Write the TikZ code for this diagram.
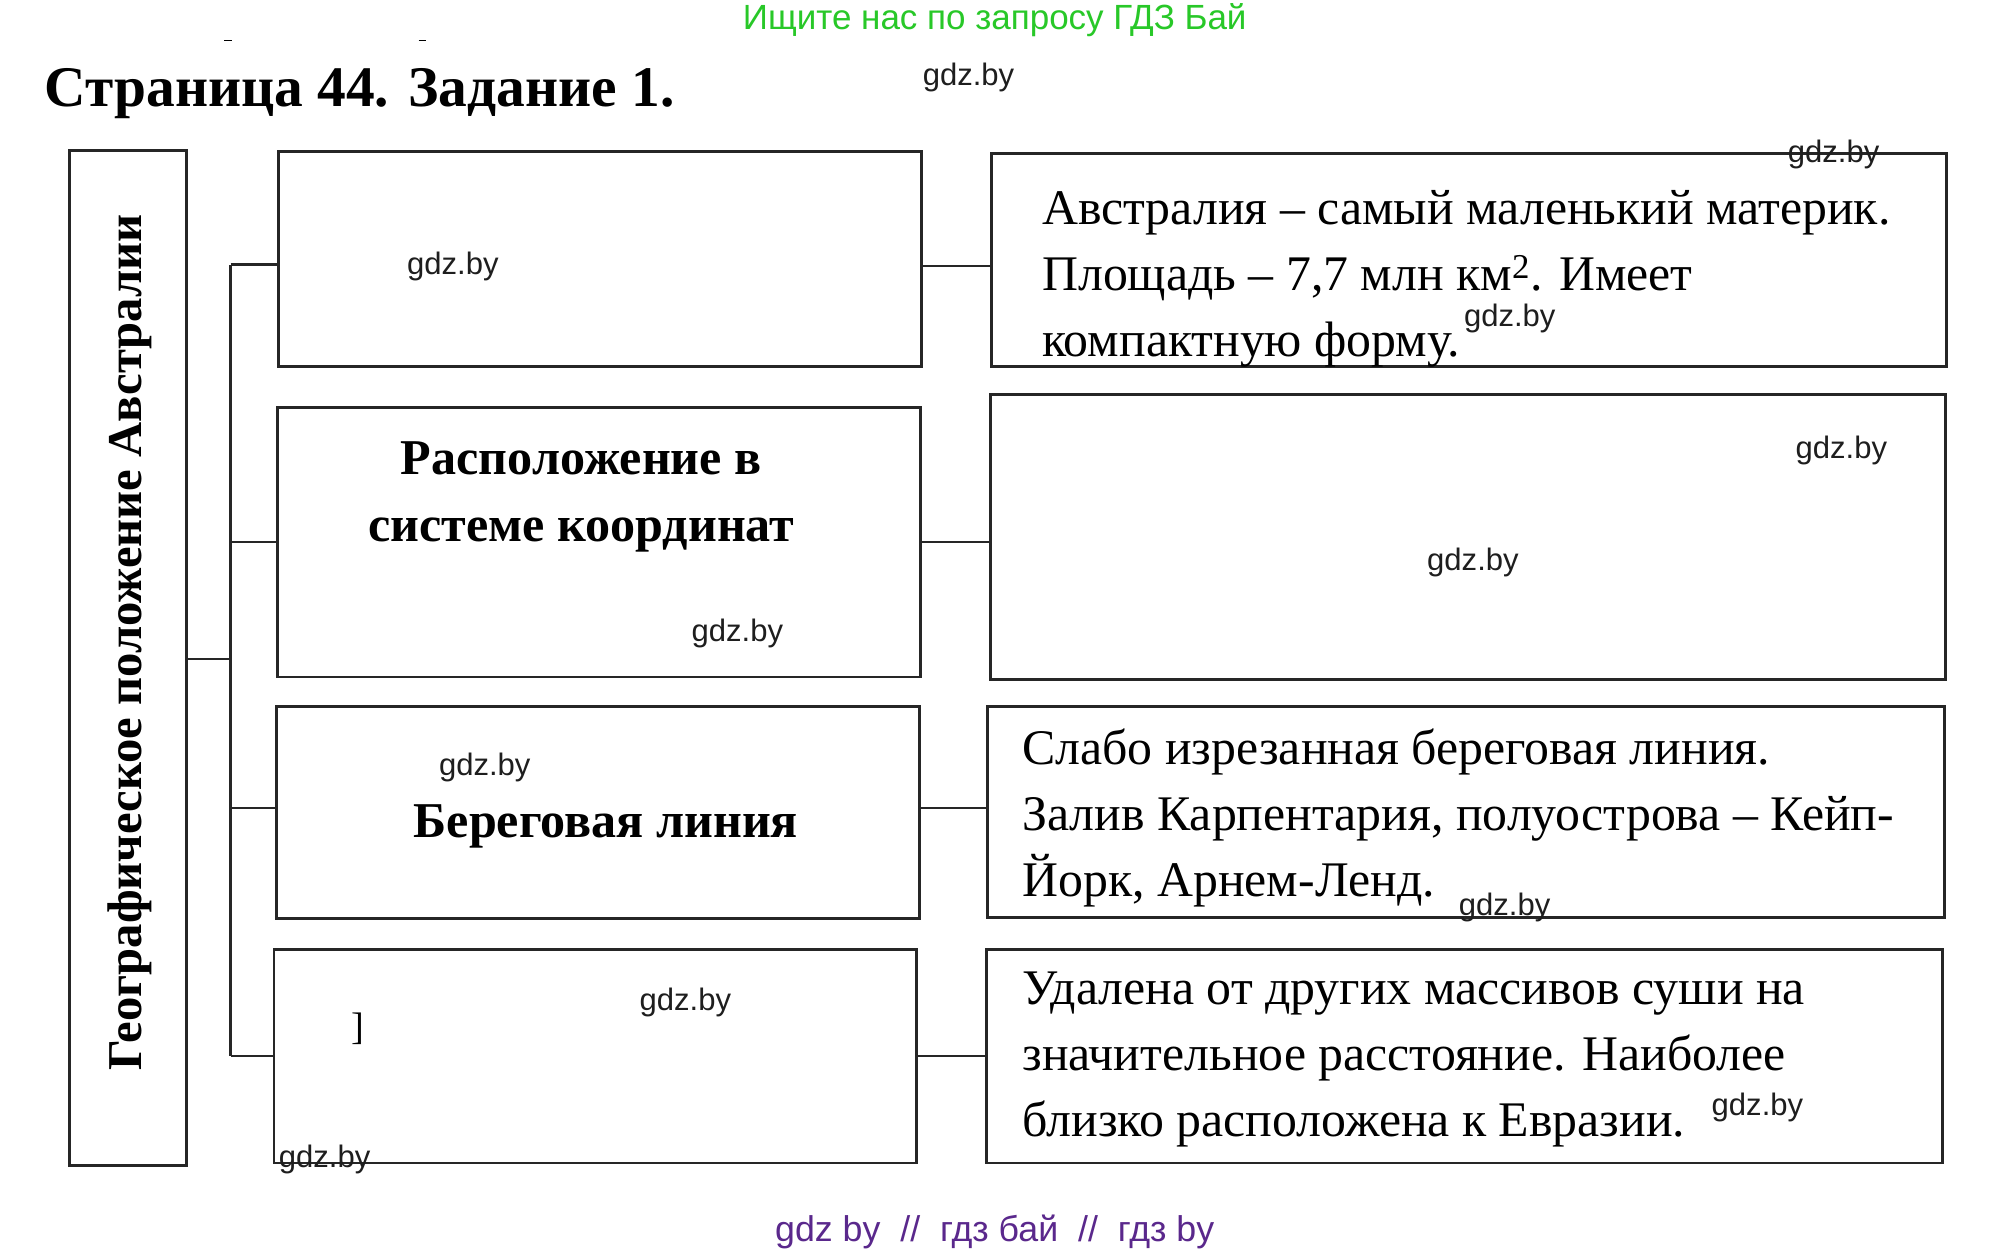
\documentclass[tikz,border=0pt]{standalone}
\usepackage{fontspec}
\setmainfont{Liberation Serif}
\newfontfamily\wmfont{Liberation Sans}
\definecolor{hdrgreen}{RGB}{40,200,40}
\definecolor{ftrpurple}{RGB}{90,40,140}
\definecolor{wmgray}{RGB}{30,30,30}
\tikzset{
  box/.style={draw=black!85, line width=2.2pt, rectangle, inner sep=0pt},
  conn/.style={draw=black!85, line width=2pt},
  wm/.style={font=\wmfont\fontsize{24.3}{24.3}\selectfont, text=wmgray, inner sep=0pt},
  bodytxt/.style={font=\fontsize{39}{51.6}\selectfont, align=left, anchor=base west, inner sep=0pt},
  headtxt/.style={font=\bfseries\fontsize{39.25}{52.5}\selectfont, align=center, anchor=base, inner sep=0pt},
}
\begin{document}
\begin{tikzpicture}[x=1pt,y=-1pt]
\useasboundingbox[fill=white] (0,0) rectangle (1560,981);
% header / footer
\node[font=\wmfont\fontsize{27.4}{27.4}\selectfont, text=hdrgreen] (hdr) at (779,15.7) {Ищите нас по запросу ГДЗ Бай};
\node[font=\wmfont\fontsize{28}{28}\selectfont, text=ftrpurple] (ftr) at (779,965) {gdz by \ // \ гдз бай \ // \ гдз by};
\node[font=\bfseries\fontsize{45}{45}\selectfont, anchor=base west, inner sep=0pt] (title) at (34.8,83.5) {Страница 44. Задание 1.};
\draw[line width=1pt] (175.6,31.9) -- (181.6,31.9);
\draw[line width=1pt] (327.8,31.9) -- (333.8,31.9);
% boxes
\node[box, minimum width=91.5, minimum height=795.3] (L) at (100.05,515.2) {};
\node[font=\bfseries\fontsize{38.1}{38.1}\selectfont, rotate=90, anchor=base, inner sep=0pt] (Ltxt) at (111,503) {Географическое положение Австралии};
\node[box, minimum width=503.4, minimum height=168.4] (m1) at (470.1,202.7) {};
\node[box, minimum width=503.4, minimum height=211.3] (m2) at (469.1,424.5) {};
\node[box, minimum width=503.4, minimum height=166.4] (m3) at (468.1,636.2) {};
\node[box, minimum width=503.3, minimum height=167.4] (m4) at (466.2,827.1) {};
\node[box, minimum width=748, minimum height=166.4] (r1) at (1150.5,203.7) {};
\node[box, minimum width=748, minimum height=223.3] (r2) at (1149.5,420.5) {};
\node[box, minimum width=749, minimum height=165.4] (r3) at (1148,635.7) {};
\node[box, minimum width=748.5, minimum height=167.4] (r4) at (1146.8,827.1) {};
% texts
\node[headtxt] (m2txt) at (455.2,424) {Расположение в\\системе координат};
\node[headtxt] (m3txt) at (474.5,655.7) {Береговая линия};
\node[font=\fontsize{30}{30}\selectfont, inner sep=0pt] (m4txt) at (280.1,805.3) {]};
\node[bodytxt] (r1txt) at (816,278.8) {Австралия – самый маленький материк.\\Площадь – 7,7 млн км\textsuperscript{2}. Имеет\\компактную форму.};
\node[bodytxt] (r3txt) at (800.5,701.7) {Слабо изрезанная береговая линия.\\Залив Карпентария, полуострова – Кейп-\\Йорк, Арнем-Ленд.};
\node[bodytxt] (r4txt) at (800.5,890) {Удалена от других массивов суши на\\значительное расстояние. Наиболее\\близко расположена к Евразии.};
% connectors
\coordinate (b0) at (180.6,516.1);
\coordinate (b1) at (180.6,207.2);
\coordinate (b2) at (180.6,424.5);
\coordinate (b3) at (180.6,632.7);
\coordinate (b4) at (180.6,827.1);
\coordinate (k1) at (750,208.2);
\coordinate (k2) at (750,424.5);
\coordinate (k3) at (750,632.7);
\coordinate (k4) at (750,827.1);
\draw[conn] (L.east |- b0) -- (b0);
\draw[conn] (b1) -- (b4);
\draw[conn] (b1) -- (m1.west |- b1);
\draw[conn] (b2) -- (m2.west |- b2);
\draw[conn] (b3) -- (m3.west |- b3);
\draw[conn] (b4) -- (m4.west |- b4);
\draw[conn] (m1.east |- k1) -- (r1.west |- k1);
\draw[conn] (m2.east |- k2) -- (r2.west |- k2);
\draw[conn] (m3.east |- k3) -- (r3.west |- k3);
\draw[conn] (m4.east |- k4) -- (r4.west |- k4);
% watermarks
\node[wm] (w1) at (758.5,60.8) {gdz.by};
\node[wm] (w2) at (1436,120.6) {gdz.by};
\node[wm] (w3) at (354.7,208.3) {gdz.by};
\node[wm] (w4) at (1182.3,249.2) {gdz.by};
\node[wm] (w5) at (1442,352.8) {gdz.by};
\node[wm] (w6) at (577.5,496.3) {gdz.by};
\node[wm] (w7) at (1153.5,440.5) {gdz.by};
\node[wm] (w8) at (379.6,601) {gdz.by};
\node[wm] (w9) at (1178.3,710.5) {gdz.by};
\node[wm] (w10) at (536.7,785.3) {gdz.by};
\node[wm] (w11) at (254.2,907.9) {gdz.by};
\node[wm] (w12) at (1376.3,867) {gdz.by};
\end{tikzpicture}
\end{document}
